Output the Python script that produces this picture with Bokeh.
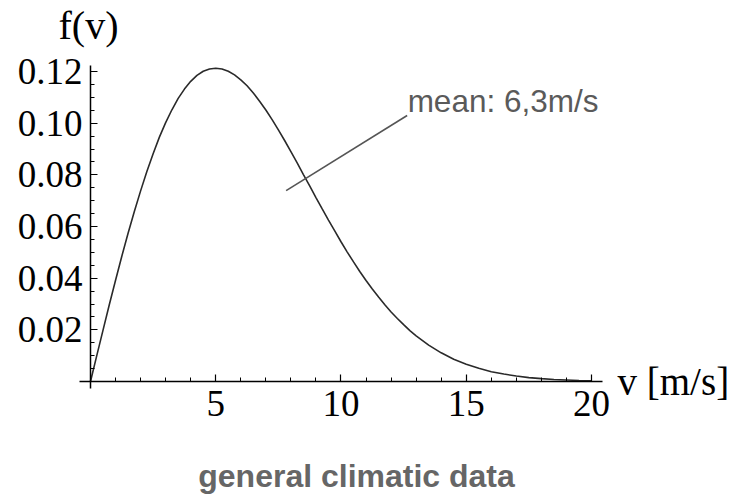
from bokeh.plotting import figure
from bokeh.models import LinearAxis, FixedTicker, Label, Range1d, ColumnDataSource
from bokeh.embed import file_html
from bokeh.resources import INLINE

# wind speed v [m/s] and probability density f(v)
speed = [0, 0.25, 0.5, 0.75, 1, 1.25, 1.5, 1.75, 2, 2.25, 2.5, 2.75, 3, 3.25, 3.5, 3.75,
         4, 4.25, 4.5, 4.75, 5, 5.25, 5.5, 5.75, 6, 6.25, 6.5, 6.75, 7, 7.25, 7.5, 7.75,
         8, 8.25, 8.5, 8.75, 9, 9.25, 9.5, 9.75, 10, 10.25, 10.5, 10.75, 11, 11.25, 11.5,
         11.75, 12, 12.25, 12.5, 12.75, 13, 13.5, 14, 14.5, 15, 15.5, 16, 16.5, 17, 17.5,
         18, 18.5, 19, 19.5, 20]
density = [0.0, 0.0100, 0.0199, 0.0297, 0.0392, 0.0485, 0.0574, 0.0658, 0.0738, 0.0813,
           0.0882, 0.0946, 0.1002, 0.1052, 0.1096, 0.1132, 0.1162, 0.1185, 0.1201, 0.1210,
           0.1213, 0.1210, 0.1201, 0.1187, 0.1168, 0.1145, 0.1117, 0.1085, 0.1051, 0.1014,
           0.0974, 0.0933, 0.0890, 0.0846, 0.0801, 0.0757, 0.0712, 0.0668, 0.0625, 0.0583,
           0.0541, 0.0501, 0.0463, 0.0426, 0.0391, 0.0358, 0.0327, 0.0297, 0.0269, 0.0244,
           0.0220, 0.0197, 0.0177, 0.0141, 0.0111, 0.0086, 0.0067, 0.0051, 0.0038, 0.0029,
           0.0021, 0.0015, 0.0011, 0.0008, 0.0006, 0.0004, 0.0003]

x_ticks = [5, 10, 15, 20]
x_tick_labels = ["5", "10", "15", "20"]
x_minor = [1, 2, 3, 4, 6, 7, 8, 9, 11, 12, 13, 14, 16, 17, 18, 19]
y_ticks = [0.02, 0.04, 0.06, 0.08, 0.10, 0.12]
y_tick_labels = ["0.02", "0.04", "0.06", "0.08", "0.10", "0.12"]
y_minor = [0.005, 0.01, 0.015, 0.025, 0.03, 0.035, 0.045, 0.05, 0.055, 0.065, 0.07, 0.075,
           0.085, 0.09, 0.095, 0.105, 0.11, 0.115]

mean_label = "mean: 6,3m/s"
y_label = "f(v)"
x_label = "v [m/s]"
caption = "general climatic data"

W, H = 733, 496
p = figure(width=W, height=H, output_backend="svg", toolbar_location=None,
           x_range=Range1d(-3.593, 25.669), y_range=Range1d(-0.04452, 0.14750),
           x_axis_location=None, y_axis_location=None,
           min_border_left=0, min_border_right=0, min_border_top=0, min_border_bottom=0)
p.outline_line_color = None
p.background_fill_color = "white"
p.border_fill_color = "white"
p.xgrid.visible = False
p.ygrid.visible = False

serif = "Liberation Serif"

xaxis = LinearAxis(fixed_location=0, bounds=(-0.44, 20.44),
                   ticker=FixedTicker(ticks=x_ticks, minor_ticks=x_minor),
                   major_label_overrides={t: l for t, l in zip(x_ticks, x_tick_labels)})
yaxis = LinearAxis(fixed_location=0, bounds=(-0.0027, 0.1223),
                   ticker=FixedTicker(ticks=y_ticks, minor_ticks=y_minor),
                   major_label_overrides={t: l for t, l in zip(y_ticks, y_tick_labels)})
for ax in (xaxis, yaxis):
    ax.axis_line_color = "black"
    ax.axis_line_width = 1.5
    ax.major_tick_line_color = "black"
    ax.minor_tick_line_color = "black"
    ax.major_tick_line_width = 1.2
    ax.minor_tick_line_width = 1.0
    ax.major_tick_in = 7
    ax.major_tick_out = 0
    ax.minor_tick_in = 4
    ax.minor_tick_out = 0
    ax.major_label_text_font = serif
    ax.major_label_text_font_size = "37px"
    ax.major_label_text_color = "black"
xaxis.major_label_standoff = 9
yaxis.major_label_standoff = 8
p.add_layout(xaxis, "below")
p.add_layout(yaxis, "left")

src = ColumnDataSource(dict(v=speed, f=density))
p.line("v", "f", source=src, line_color="#2a2a2a", line_width=1.6)

# pointer line of the annotation
p.segment(x0=[7.81], y0=[0.0739], x1=[12.64], y1=[0.1030], line_color="#555555", line_width=1.6)

p.add_layout(Label(x=12.66, y=0.1084, text=mean_label, text_font="Liberation Sans",
                   text_font_size="31.5px", text_color="#5a5a5a", text_baseline="alphabetic"))
p.add_layout(Label(x=-0.08, y=0.1379, text=y_label, text_font=serif, text_font_size="40px",
                   text_color="black", text_align="center", text_baseline="alphabetic"))
p.add_layout(Label(x=21.04, y=0.0, text=x_label, text_font=serif, text_font_size="39px",
                   text_color="black", text_align="left", text_baseline="alphabetic"))
p.add_layout(Label(x=10.62, y=-0.0364, text=caption, text_font="Liberation Sans",
                   text_font_size="32px", text_font_style="bold", text_color="#666666",
                   text_align="center", text_baseline="alphabetic"))

open("out.html", "w").write(file_html(p, INLINE))
